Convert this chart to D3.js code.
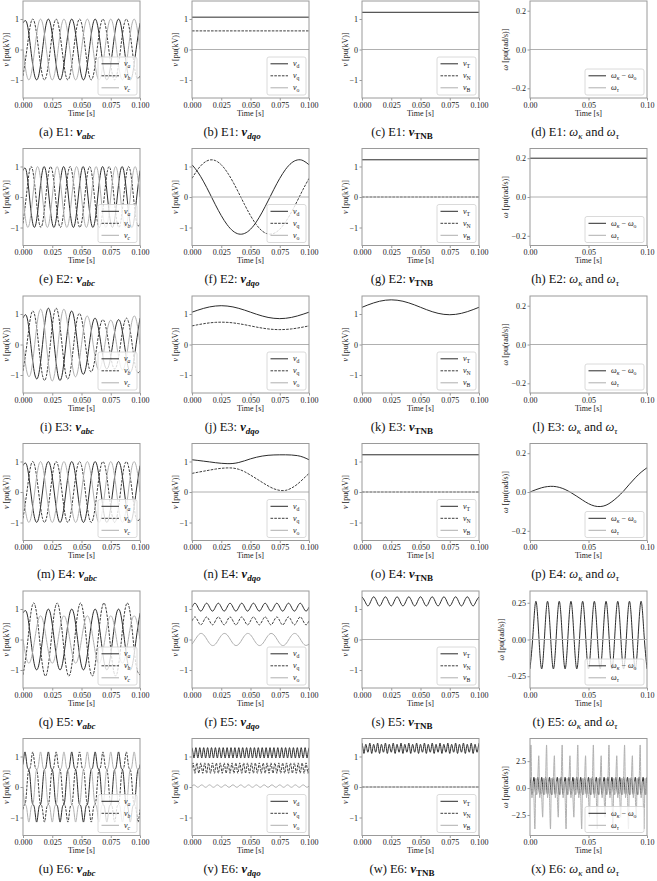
<!DOCTYPE html>
<html>
<head>
<meta charset="utf-8">
<script src="https://cdn.jsdelivr.net/npm/d3@7/dist/d3.min.js"></script>
<style>
body { margin: 0; background: #fff; }
svg text { font-family: "Liberation Serif", "DejaVu Serif", serif; white-space: pre; }
</style>
</head>
<body>
<svg id="fig" width="657" height="881"></svg>
<script>

// ---- sampled signals, each spans 0 .. 0.1 s with equal steps ----

// E1 / E4 phase voltages, 50 Hz
var va50 = [.866,.866,0,-.866,-.866,0, .866,.866,0,-.866,-.866,0, .866,.866,0,-.866,-.866,0, .866,.866,0,-.866,-.866,0, .866,.866,0,-.866,-.866,0, .866];
var vb50 = [-.866,0,.866,.866,0,-.866, -.866,0,.866,.866,0,-.866, -.866,0,.866,.866,0,-.866, -.866,0,.866,.866,0,-.866, -.866,0,.866,.866,0,-.866, -.866];
var vc50 = [0,-.866,-.866,0,.866,.866, 0,-.866,-.866,0,.866,.866, 0,-.866,-.866,0,.866,.866, 0,-.866,-.866,0,.866,.866, 0,-.866,-.866,0,.866,.866, 0];

// E2 phase voltages, 60 Hz
var va60 = [.866,.866,0,-.866,-.866,0, .866,.866,0,-.866,-.866,0, .866,.866,0,-.866,-.866,0, .866,.866,0,-.866,-.866,0, .866,.866,0,-.866,-.866,0, .866,.866,0,-.866,-.866,0, .866];
var vb60 = [-.866,0,.866,.866,0,-.866, -.866,0,.866,.866,0,-.866, -.866,0,.866,.866,0,-.866, -.866,0,.866,.866,0,-.866, -.866,0,.866,.866,0,-.866, -.866,0,.866,.866,0,-.866, -.866];
var vc60 = [0,-.866,-.866,0,.866,.866, 0,-.866,-.866,0,.866,.866, 0,-.866,-.866,0,.866,.866, 0,-.866,-.866,0,.866,.866, 0,-.866,-.866,0,.866,.866, 0,-.866,-.866,0,.866,.866, 0];

// E3 phase voltages (amplitude swings)
var va3 = [.866,.902,0,-.968,-.995,0,1.031,1.038,0,-1.031,-1.016,0,.968,.936,0,-.866,-.830,0,.764,.737,0,-.701,-.694,0,.701,.716,0,-.764,-.796,0,.866];
var vb3 = [-.866,0,.936,.968,0,-1.016,-1.031,0,1.038,1.031,0,-.995,-.968,0,.902,.866,0,-.796,-.764,0,.716,.701,0,-.694,-.701,0,.737,.764,0,-.830,-.866];
var vc3 = [0,-.902,-.936,0,.995,1.016,0,-1.038,-1.038,0,1.016,.995,0,-.936,-.902,0,.830,.796,0,-.737,-.716,0,.694,.694,0,-.716,-.737,0,.796,.830,0];

// E5 phase voltages (unbalanced)
var va5 = va50;
var vb5 = [-1.159,-.311,.849,1.159,.311,-.849, -1.159,-.311,.849,1.159,.311,-.849, -1.159,-.311,.849,1.159,.311,-.849, -1.159,-.311,.849,1.159,.311,-.849, -1.159,-.311,.849,1.159,.311,-.849, -1.159];
var vc5 = [0,-.675,-.675,0,.675,.675, 0,-.675,-.675,0,.675,.675, 0,-.675,-.675,0,.675,.675, 0,-.675,-.675,0,.675,.675, 0,-.675,-.675,0,.675,.675, 0];

// E6 phase voltages (with harmonics)
var va6 = [
 .736,.951,1.125,1.125,.951,.736,.613,.588,.537,.338,0,-.338,-.537,-.588,-.613,-.736,-.951,-1.125,-1.125,-.951,-.736,-.613,-.588,-.537,-.338,0,.338,.537,.588,.613,
 .736,.951,1.125,1.125,.951,.736,.613,.588,.537,.338,0,-.338,-.537,-.588,-.613,-.736,-.951,-1.125,-1.125,-.951,-.736,-.613,-.588,-.537,-.338,0,.338,.537,.588,.613,
 .736,.951,1.125,1.125,.951,.736,.613,.588,.537,.338,0,-.338,-.537,-.588,-.613,-.736,-.951,-1.125,-1.125,-.951,-.736,-.613,-.588,-.537,-.338,0,.338,.537,.588,.613,
 .736,.951,1.125,1.125,.951,.736,.613,.588,.537,.338,0,-.338,-.537,-.588,-.613,-.736,-.951,-1.125,-1.125,-.951,-.736,-.613,-.588,-.537,-.338,0,.338,.537,.588,.613,
 .736,.951,1.125,1.125,.951,.736,.613,.588,.537,.338,0,-.338,-.537,-.588,-.613,-.736,-.951,-1.125,-1.125,-.951,-.736,-.613,-.588,-.537,-.338,0,.338,.537,.588,.613,
 .736];
var vb6 = [
 -.736,-.613,-.588,-.537,-.338,0,.338,.537,.588,.613,.736,.951,1.125,1.125,.951,.736,.613,.588,.537,.338,0,-.338,-.537,-.588,-.613,-.736,-.951,-1.125,-1.125,-.951,
 -.736,-.613,-.588,-.537,-.338,0,.338,.537,.588,.613,.736,.951,1.125,1.125,.951,.736,.613,.588,.537,.338,0,-.338,-.537,-.588,-.613,-.736,-.951,-1.125,-1.125,-.951,
 -.736,-.613,-.588,-.537,-.338,0,.338,.537,.588,.613,.736,.951,1.125,1.125,.951,.736,.613,.588,.537,.338,0,-.338,-.537,-.588,-.613,-.736,-.951,-1.125,-1.125,-.951,
 -.736,-.613,-.588,-.537,-.338,0,.338,.537,.588,.613,.736,.951,1.125,1.125,.951,.736,.613,.588,.537,.338,0,-.338,-.537,-.588,-.613,-.736,-.951,-1.125,-1.125,-.951,
 -.736,-.613,-.588,-.537,-.338,0,.338,.537,.588,.613,.736,.951,1.125,1.125,.951,.736,.613,.588,.537,.338,0,-.338,-.537,-.588,-.613,-.736,-.951,-1.125,-1.125,-.951,
 -.736];
var vc6 = [
 0,-.338,-.537,-.588,-.613,-.736,-.951,-1.125,-1.125,-.951,-.736,-.613,-.588,-.537,-.338,0,.338,.537,.588,.613,.736,.951,1.125,1.125,.951,.736,.613,.588,.537,.338,
 0,-.338,-.537,-.588,-.613,-.736,-.951,-1.125,-1.125,-.951,-.736,-.613,-.588,-.537,-.338,0,.338,.537,.588,.613,.736,.951,1.125,1.125,.951,.736,.613,.588,.537,.338,
 0,-.338,-.537,-.588,-.613,-.736,-.951,-1.125,-1.125,-.951,-.736,-.613,-.588,-.537,-.338,0,.338,.537,.588,.613,.736,.951,1.125,1.125,.951,.736,.613,.588,.537,.338,
 0,-.338,-.537,-.588,-.613,-.736,-.951,-1.125,-1.125,-.951,-.736,-.613,-.588,-.537,-.338,0,.338,.537,.588,.613,.736,.951,1.125,1.125,.951,.736,.613,.588,.537,.338,
 0,-.338,-.537,-.588,-.613,-.736,-.951,-1.125,-1.125,-.951,-.736,-.613,-.588,-.537,-.338,0,.338,.537,.588,.613,.736,.951,1.125,1.125,.951,.736,.613,.588,.537,.338,
 0];

// dqo / TNB / omega
var zero = [0, 0];
var vd1 = [1.06, 1.06], vq1 = [.61, .61], vT1 = [1.22, 1.22];
var wk2 = [.2, .2];

var vd2 = [1.057,.816,.496,.128,-.254,-.61,-.907,-1.115,-1.214,-1.193,-1.057,-.816,-.496,-.128,.254,.61,.907,1.115,1.214,1.193,1.057];
var vq2 = [.61,.907,1.115,1.214,1.193,1.057,.816,.496,.128,-.254,-.61,-.907,-1.115,-1.214,-1.193,-1.057,-.816,-.496,-.128,.254,.61];

var vd3 = [1.06,1.126,1.185,1.232,1.261,1.272,1.261,1.232,1.185,1.126,1.06,.994,.935,.888,.859,.848,.859,.888,.935,.994,1.06];
var vq3 = [.61,.648,.682,.709,.726,.732,.726,.709,.682,.648,.61,.572,.538,.511,.494,.488,.494,.511,.538,.572,.61];
var vT3 = [1.22,1.296,1.364,1.418,1.452,1.464,1.452,1.418,1.364,1.296,1.22,1.144,1.076,1.022,.988,.976,.988,1.022,1.076,1.144,1.22];

var vd4 = [1.057,1.035,1.011,.987,.961,.941,.930,.935,.968,1.023,1.087,1.139,1.178,1.203,1.215,1.219,1.219,1.213,1.193,1.143,1.057];
var vq4 = [.61,.647,.682,.717,.751,.776,.789,.784,.743,.664,.554,.437,.316,.201,.106,.053,.053,.128,.254,.427,.61];
var wk4 = [0,.012,.022,.028,.029,.024,.013,-.003,-.022,-.042,-.06,-.072,-.075,-.068,-.05,-.025,.005,.04,.073,.102,.125];

var vd5 = [1.06,1.19,1.06,.93, 1.06,1.19,1.06,.93, 1.06,1.19,1.06,.93, 1.06,1.19,1.06,.93, 1.06,1.19,1.06,.93,
           1.06,1.19,1.06,.93, 1.06,1.19,1.06,.93, 1.06,1.19,1.06,.93, 1.06,1.19,1.06,.93, 1.06,1.19,1.06,.93, 1.06];
var vq5 = [.61,.74,.61,.48, .61,.74,.61,.48, .61,.74,.61,.48, .61,.74,.61,.48, .61,.74,.61,.48,
           .61,.74,.61,.48, .61,.74,.61,.48, .61,.74,.61,.48, .61,.74,.61,.48, .61,.74,.61,.48, .61];
var vo5 = [-.153,.035,.188,.153,-.035,-.188, -.153,.035,.188,.153,-.035,-.188, -.153,.035,.188,.153,-.035,-.188,
           -.153,.035,.188,.153,-.035,-.188, -.153,.035,.188,.153,-.035,-.188, -.153];
var vT5 = [1.4,1.25,1.1,1.25, 1.4,1.25,1.1,1.25, 1.4,1.25,1.1,1.25, 1.4,1.25,1.1,1.25, 1.4,1.25,1.1,1.25,
           1.4,1.25,1.1,1.25, 1.4,1.25,1.1,1.25, 1.4,1.25,1.1,1.25, 1.4,1.25,1.1,1.25, 1.4,1.25,1.1,1.25, 1.4];
var wk5 = [-.2,.03,.26,.03, -.2,.03,.26,.03, -.2,.03,.26,.03, -.2,.03,.26,.03, -.2,.03,.26,.03,
           -.2,.03,.26,.03, -.2,.03,.26,.03, -.2,.03,.26,.03, -.2,.03,.26,.03, -.2,.03,.26,.03, -.2];

var vd6 = [1.29,1.12,.95,1.12, 1.29,1.12,.95,1.12, 1.29,1.12,.95,1.12, 1.29,1.12,.95,1.12, 1.29,1.12,.95,1.12,
           1.29,1.12,.95,1.12, 1.29,1.12,.95,1.12, 1.29,1.12,.95,1.12, 1.29,1.12,.95,1.12, 1.29,1.12,.95,1.12,
           1.29,1.12,.95,1.12, 1.29,1.12,.95,1.12, 1.29,1.12,.95,1.12, 1.29,1.12,.95,1.12, 1.29,1.12,.95,1.12,
           1.29,1.12,.95,1.12, 1.29,1.12,.95,1.12, 1.29,1.12,.95,1.12, 1.29,1.12,.95,1.12, 1.29,1.12,.95,1.12,
           1.29,1.12,.95,1.12, 1.29,1.12,.95,1.12, 1.29,1.12,.95,1.12, 1.29,1.12,.95,1.12, 1.29,1.12,.95,1.12,
           1.29,1.12,.95,1.12, 1.29,1.12,.95,1.12, 1.29,1.12,.95,1.12, 1.29,1.12,.95,1.12, 1.29,1.12,.95,1.12, 1.29];
var vq6 = [.62,.79,.62,.45, .62,.79,.62,.45, .62,.79,.62,.45, .62,.79,.62,.45, .62,.79,.62,.45,
           .62,.79,.62,.45, .62,.79,.62,.45, .62,.79,.62,.45, .62,.79,.62,.45, .62,.79,.62,.45,
           .62,.79,.62,.45, .62,.79,.62,.45, .62,.79,.62,.45, .62,.79,.62,.45, .62,.79,.62,.45,
           .62,.79,.62,.45, .62,.79,.62,.45, .62,.79,.62,.45, .62,.79,.62,.45, .62,.79,.62,.45,
           .62,.79,.62,.45, .62,.79,.62,.45, .62,.79,.62,.45, .62,.79,.62,.45, .62,.79,.62,.45,
           .62,.79,.62,.45, .62,.79,.62,.45, .62,.79,.62,.45, .62,.79,.62,.45, .62,.79,.62,.45, .62];
var vo6 = [.03,.07,.03,-.01, .03,.07,.03,-.01, .03,.07,.03,-.01, .03,.07,.03,-.01, .03,.07,.03,-.01,
           .03,.07,.03,-.01, .03,.07,.03,-.01, .03,.07,.03,-.01, .03,.07,.03,-.01, .03,.07,.03,-.01,
           .03,.07,.03,-.01, .03,.07,.03,-.01, .03,.07,.03,-.01, .03,.07,.03,-.01, .03,.07,.03,-.01, .03];
var vT6 = [1.44,1.27,1.1,1.27, 1.40,1.26,1.14,1.27, 1.44,1.27,1.1,1.27, 1.40,1.26,1.14,1.27, 1.44,1.27,1.1,1.27,
           1.40,1.26,1.14,1.27, 1.44,1.27,1.1,1.27, 1.40,1.26,1.14,1.27, 1.44,1.27,1.1,1.27, 1.40,1.26,1.14,1.27,
           1.44,1.27,1.1,1.27, 1.40,1.26,1.14,1.27, 1.44,1.27,1.1,1.27, 1.40,1.26,1.14,1.27, 1.44,1.27,1.1,1.27,
           1.40,1.26,1.14,1.27, 1.44,1.27,1.1,1.27, 1.40,1.26,1.14,1.27, 1.44,1.27,1.1,1.27, 1.40,1.26,1.14,1.27,
           1.44,1.27,1.1,1.27, 1.40,1.26,1.14,1.27, 1.44,1.27,1.1,1.27, 1.40,1.26,1.14,1.27, 1.44,1.27,1.1,1.27,
           1.40,1.26,1.14,1.27, 1.44,1.27,1.1,1.27, 1.40,1.26,1.14,1.27, 1.44,1.27,1.1,1.27, 1.40,1.26,1.14,1.27, 1.44];
var wk6 = [1.0,.2,-.6,.2, 1.0,.2,-.6,.2, 1.0,.2,-.6,.2, 1.0,.2,-.6,.2, 1.0,.2,-.6,.2,
           1.0,.2,-.6,.2, 1.0,.2,-.6,.2, 1.0,.2,-.6,.2, 1.0,.2,-.6,.2, 1.0,.2,-.6,.2,
           1.0,.2,-.6,.2, 1.0,.2,-.6,.2, 1.0,.2,-.6,.2, 1.0,.2,-.6,.2, 1.0,.2,-.6,.2,
           1.0,.2,-.6,.2, 1.0,.2,-.6,.2, 1.0,.2,-.6,.2, 1.0,.2,-.6,.2, 1.0,.2,-.6,.2,
           1.0,.2,-.6,.2, 1.0,.2,-.6,.2, 1.0,.2,-.6,.2, 1.0,.2,-.6,.2, 1.0,.2,-.6,.2,
           1.0,.2,-.6,.2, 1.0,.2,-.6,.2, 1.0,.2,-.6,.2, 1.0,.2,-.6,.2, 1.0,.2,-.6,.2, 1.0];
var wt6 = [.8,4.0,-.9,.6,-.8,-3.8,.9,-.6, .8,3.0,-.9,.6,-.8,-2.7,.9,-.6, .8,4.0,-.9,.6,-.8,-3.8,.9,-.6,
           .8,3.0,-.9,.6,-.8,-2.7,.9,-.6, .8,4.0,-.9,.6,-.8,-3.8,.9,-.6, .8,3.0,-.9,.6,-.8,-2.7,.9,-.6,
           .8,4.0,-.9,.6,-.8,-3.8,.9,-.6, .8,3.0,-.9,.6,-.8,-2.7,.9,-.6, .8,4.0,-.9,.6,-.8,-3.8,.9,-.6,
           .8,3.0,-.9,.6,-.8,-2.7,.9,-.6, .8,4.0,-.9,.6,-.8,-3.8,.9,-.6, .8,3.0,-.9,.6,-.8,-2.7,.9,-.6,
           .8,4.0,-.9,.6,-.8,-3.8,.9,-.6, .8,3.0,-.9,.6,-.8,-2.7,.9,-.6, .8,4.0,-.9,.6,-.8,-3.8,.9,-.6, .8];

// tick values
var tTicksV = [0, 0.025, 0.05, 0.075, 0.1];
var tTicksW = [0, 0.05, 0.1];
var vTicks = [-1, 0, 1];

// ---- layout ----
var W = 117, H = 97;
var colX = [23, 192, 362, 530];
var rowY = [1, 148.5, 296, 443.5, 591, 738.5];
var capX = [67, 232, 402, 575];

var sty = {
	k: {stroke: '#2b2b2b', dash: null},
	d: {stroke: '#3d3d3d', dash: '2.6,1.2'},
	g: {stroke: '#b0b0b0', dash: null}
};

var svg = d3.select('#fig');

function rich(t, segs, fs){
	var cur = 0;
	segs.forEach(function(s){
		var off = s.sub ? fs * 0.26 : 0;
		var ts = t.append('tspan')
			.attr('dy', (off - cur).toFixed(2))
			.attr('font-size', s.sub ? fs * 0.72 : fs)
			.text(s.t);
		if (s.i) ts.attr('font-style', 'italic');
		if (s.b) ts.attr('font-weight', 'bold');
		cur = off;
	});
}

function V(sub, it){ return [{t: 'v', i: 1}, {t: sub, sub: 1, i: it}]; }
var labAbc = [V('a', 1), V('b', 1), V('c', 1)];
var labDq = [V('d'), V('q'), V('o')];
var labTnb = [V('T'), V('N'), V('B')];
var labW = [
	[{t: 'ω', i: 1}, {t: 'κ', sub: 1, i: 1}, {t: ' − '}, {t: 'ω', i: 1}, {t: 'o', sub: 1}],
	[{t: 'ω', i: 1}, {t: 'τ', sub: 1, i: 1}]
];

function legend(g, labels, styles, w){
	var n = labels.length, h = 12 * n + 2;
	var lg = g.append('g').attr('transform', 'translate(' + (W - 3 - w) + ',' + (H - 3 - h) + ')');
	lg.append('rect').attr('width', w).attr('height', h).attr('rx', 2)
		.attr('fill', '#fff').attr('fill-opacity', 0.8)
		.attr('stroke', '#d0d0d0').attr('stroke-width', 0.8);
	labels.forEach(function(lab, i){
		var yy = 6.8 + 12 * i;
		lg.append('line').attr('x1', 3.5).attr('x2', 21).attr('y1', yy).attr('y2', yy)
			.attr('stroke', sty[styles[i]].stroke).attr('stroke-width', 1)
			.attr('stroke-dasharray', sty[styles[i]].dash);
		var t = lg.append('text').attr('x', 26).attr('y', yy + 2.6).attr('fill', '#222');
		rich(t, lab, 8);
	});
}

function panel(c, r, p){
	var g = svg.append('g').attr('transform', 'translate(' + colX[c] + ',' + rowY[r] + ')');
	var xScale = d3.scaleLinear().domain([0, 0.1]).range([0, W]);
	var yScale = d3.scaleLinear().domain(p.ylim).range([H, 0]);

	var cid = 'clip' + r + '_' + c;
	g.append('clipPath').attr('id', cid).append('rect').attr('width', W).attr('height', H);
	var plot = g.append('g').attr('clip-path', 'url(#' + cid + ')');

	p.lines.forEach(function(L, i){
		var n = L.length;
		var pts = L.map(function(v, j){ return [j * 0.1 / (n - 1), v]; });
		var lineGen = d3.line()
			.x(function(d){ return xScale(d[0]); })
			.y(function(d){ return yScale(d[1]); })
			.curve(p.curves && p.curves[i] ? p.curves[i] : d3.curveNatural);
		plot.append('path').datum(pts)
			.attr('fill', 'none')
			.attr('stroke', sty[p.sty[i]].stroke)
			.attr('stroke-width', 1)
			.attr('stroke-dasharray', sty[p.sty[i]].dash)
			.attr('d', lineGen);
	});

	g.append('rect').attr('width', W).attr('height', H)
		.attr('fill', 'none').attr('stroke', '#9a9a9a').attr('stroke-width', 1);

	var xa = g.append('g').attr('transform', 'translate(0,' + H + ')')
		.call(d3.axisBottom(xScale).tickValues(p.xt).tickFormat(d3.format(p.xf)).tickSize(2.5).tickPadding(1.5));
	var ya = g.append('g')
		.call(d3.axisLeft(yScale).tickValues(p.yt).tickFormat(d3.format(p.yf)).tickSize(2.5).tickPadding(1.5));
	[xa, ya].forEach(function(a){
		a.attr('font-size', 8).attr('font-family', null);
		a.select('.domain').remove();
		a.selectAll('line').attr('stroke', '#9a9a9a');
		a.selectAll('text').attr('fill', '#222');
	});

	g.append('text').attr('x', W / 2).attr('y', H + 17.5).attr('text-anchor', 'middle')
		.attr('font-size', 8).attr('fill', '#222').text('Time [s]');

	var yl = g.append('text')
		.attr('transform', 'translate(' + (-p.ylx) + ',' + (H / 2) + ') rotate(-90)')
		.attr('text-anchor', 'middle').attr('fill', '#222');
	rich(yl, p.ylab, 8);

	legend(g, p.leg, p.sty, p.legW);

	var cap = svg.append('text').attr('x', capX[c]).attr('y', rowY[r] + H + 37.5)
		.attr('text-anchor', 'middle').attr('fill', '#111');
	rich(cap, p.cap, 12.5);
}

// ---- rows E1..E6 ----
var rows = [
	{abc: [va50, vb50, vc50], dqo: [vd1, vq1, zero], tnb: [vT1, zero, zero], w: [zero, zero],
		wlim: [-0.25, 0.25], wt: [-0.2, 0, 0.2], wf: '.1f', wx: 22},
	{abc: [va60, vb60, vc60], dqo: [vd2, vq2, zero], tnb: [vT1, zero, zero], w: [wk2, zero],
		wlim: [-0.25, 0.25], wt: [-0.2, 0, 0.2], wf: '.1f', wx: 22},
	{abc: [va3, vb3, vc3], dqo: [vd3, vq3, zero], tnb: [vT3, zero, zero], w: [zero, zero],
		wlim: [-0.25, 0.25], wt: [-0.2, 0, 0.2], wf: '.1f', wx: 22},
	{abc: [va50, vb50, vc50], dqo: [vd4, vq4, zero], tnb: [vT1, zero, zero], w: [wk4, zero],
		wlim: [-0.25, 0.25], wt: [-0.2, 0, 0.2], wf: '.1f', wx: 22},
	{abc: [va5, vb5, vc5], dqo: [vd5, vq5, vo5], tnb: [vT5, zero, zero], w: [wk5, zero],
		wlim: [-0.33, 0.33], wt: [-0.25, 0, 0.25], wf: '.2f', wx: 26},
	{abc: [va6, vb6, vc6], dqo: [vd6, vq6, vo6], tnb: [vT6, zero, zero], w: [wk6, wt6],
		wlim: [-4.4, 4.6], wt: [-2.5, 0, 2.5], wf: '.1f', wx: 22, wcurve: d3.curveMonotoneX}
];

var letters = 'abcdefghijklmnopqrstuvwx';
var vLab = [{t: 'v', i: 1}, {t: ' [pu(kV)]'}];
var wLab = [{t: 'ω', i: 1}, {t: ' [pu(rad/s)]'}];
var lineSty = ['k', 'd', 'g'];

rows.forEach(function(R, r){
	var E = 'E' + (r + 1) + ': ';
	var L = function(c){ return '(' + letters[4 * r + c] + ') ' + E; };
	var base = {ylim: [-1.59, 1.59], yt: vTicks, yf: 'd', xt: tTicksV, xf: '.3f',
		ylab: vLab, ylx: 14.5, sty: lineSty, legW: 39};

	panel(0, r, Object.assign({}, base, {lines: R.abc, leg: labAbc,
		cap: [{t: L(0)}, {t: 'v', i: 1, b: 1}, {t: 'abc', sub: 1, i: 1, b: 1}]}));
	panel(1, r, Object.assign({}, base, {lines: R.dqo, leg: labDq,
		cap: [{t: L(1)}, {t: 'v', i: 1, b: 1}, {t: 'dqo', sub: 1, i: 1, b: 1}]}));
	panel(2, r, Object.assign({}, base, {lines: R.tnb, leg: labTnb,
		cap: [{t: L(2)}, {t: 'v', i: 1, b: 1}, {t: 'TNB', sub: 1, b: 1}]}));
	panel(3, r, {lines: R.w, sty: ['k', 'g'], curves: [null, R.wcurve || null],
		ylim: R.wlim, yt: R.wt, yf: R.wf, xt: tTicksW, xf: '.2f',
		ylab: wLab, ylx: R.wx, leg: labW, legW: 59,
		cap: [{t: L(3)}, {t: 'ω', i: 1}, {t: 'κ', sub: 1, i: 1}, {t: ' and '}, {t: 'ω', i: 1}, {t: 'τ', sub: 1, i: 1}]});
});

</script>
</body>
</html>
